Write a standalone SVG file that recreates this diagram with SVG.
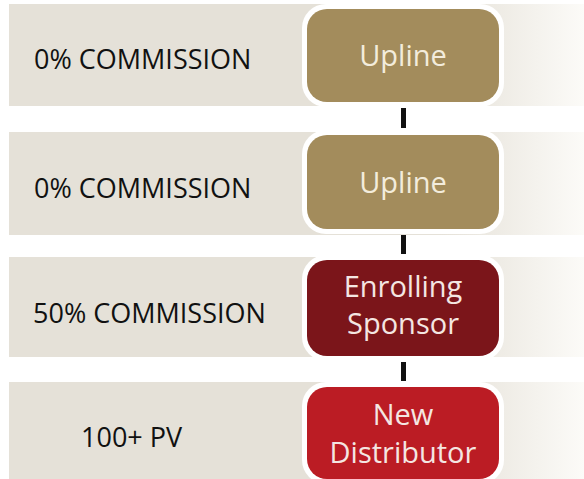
<svg xmlns="http://www.w3.org/2000/svg" width="584" height="479" viewBox="0 0 584 479">
  <defs>
    <linearGradient id="bandFade" gradientUnits="userSpaceOnUse" x1="440" y1="0" x2="584" y2="0">
      <stop offset="0" stop-color="#e5e1d8"/>
      <stop offset="1" stop-color="#fcfbf8"/>
    </linearGradient>
  </defs>
  <style>
    .band { fill: url(#bandFade); }
    .halo { fill: #ffffff; }
    .tan { fill: #a38c5c; }
    .wine { fill: #7b151a; }
    .red { fill: #bb1c24; }
    .label { font-family: "Open Sans", "Noto Sans", sans-serif; font-size: 27px; fill: #111111; }
    .name { font-family: "Open Sans", "Noto Sans", sans-serif; font-size: 29px; fill: #f3ecdc; text-anchor: middle; }
    .name.onred { fill: #f4e6e2; }
    .link { fill: #111111; }
  </style>

  <rect width="584" height="479" fill="#ffffff"/>

  <!-- horizontal rows -->
  <g id="rows">
    <rect class="band" x="9" y="4" width="575" height="102"/>
    <rect class="band" x="9" y="132" width="575" height="103"/>
    <rect class="band" x="9" y="257" width="575" height="100"/>
    <rect class="band" x="9" y="382" width="575" height="97"/>
  </g>

  <!-- row captions -->
  <g id="captions">
    <text class="label" x="34" y="69">0% COMMISSION</text>
    <text class="label" x="34" y="198">0% COMMISSION</text>
    <text class="label" x="33" y="323">50% COMMISSION</text>
    <text class="label" x="81" y="447">100+ PV</text>
  </g>

  <!-- connectors between levels -->
  <g id="connectors">
    <rect class="link" x="401" y="108" width="5" height="20"/>
    <rect class="link" x="401" y="235" width="5" height="19"/>
    <rect class="link" x="401" y="362" width="5" height="19"/>
  </g>

  <g id="upline-top">
    <rect class="halo" x="302" y="4" width="202" height="103" rx="24"/>
    <rect class="tan" x="307" y="9" width="192" height="93" rx="20"/>
    <text class="name" x="403" y="66">Upline</text>
  </g>

  <g id="upline">
    <rect class="halo" x="302" y="130" width="202" height="104" rx="24"/>
    <rect class="tan" x="307" y="135" width="192" height="94" rx="20"/>
    <text class="name" x="403" y="193">Upline</text>
  </g>

  <g id="enrolling-sponsor">
    <rect class="halo" x="302" y="255" width="202" height="106" rx="24"/>
    <rect class="wine" x="307" y="260" width="192" height="96" rx="20"/>
    <text class="name onred" x="403" y="297">Enrolling</text>
    <text class="name onred" x="403" y="334">Sponsor</text>
  </g>

  <g id="new-distributor">
    <rect class="halo" x="302" y="382" width="202" height="102" rx="24"/>
    <rect class="red" x="307" y="387" width="192" height="92" rx="20"/>
    <text class="name onred" x="403" y="425">New</text>
    <text class="name onred" x="403" y="463">Distributor</text>
  </g>
</svg>
